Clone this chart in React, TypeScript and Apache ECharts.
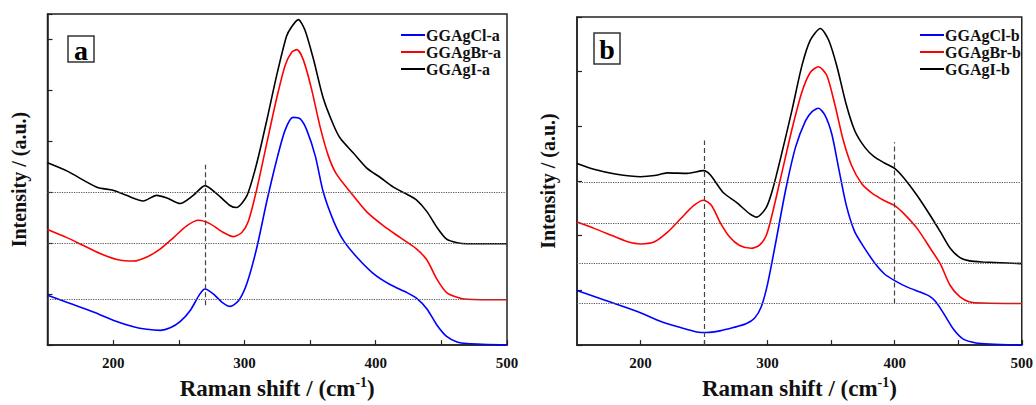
import React, { useEffect, useRef } from "react";
import * as echarts from "echarts";

const FONT = '"Liberation Serif", "Times New Roman", serif';

// Panel a
const namesA = ["GGAgCl-a", "GGAgBr-a", "GGAgI-a"];
const namesB = ["GGAgCl-b", "GGAgBr-b", "GGAgI-b"];
const colors = ["#0000ff", "#ff0000", "#000000"];

const aCl: [number, number][] = [
  [150, 0.98], [164.7, 0.84], [185, 0.65], [200, 0.49], [215.5, 0.36], [225.7, 0.31], [236, 0.29],
  [243.5, 0.34], [251, 0.46], [258.7, 0.68], [266, 1.0], [270, 1.1], [276.5, 1.0], [283, 0.84],
  [289, 0.76], [295.5, 0.87], [302, 1.22], [309.5, 1.92], [317, 2.82], [324.6, 3.64], [331, 4.22],
  [337, 4.47], [342.5, 4.44], [347.5, 4.22], [354, 3.71], [360, 3.01], [368, 2.43], [375.5, 2.05],
  [385.5, 1.73], [398, 1.41], [410.9, 1.19], [423.8, 1.03], [431, 0.92], [439, 0.71], [446.7, 0.39],
  [454, 0.17], [462, 0.06], [469.5, 0.03], [500, 0.0],
];
const aBr: [number, number][] = [
  [150, 2.27], [164.7, 2.11], [177, 1.96], [190, 1.8], [203, 1.68], [215.5, 1.65], [225.7, 1.73],
  [236, 1.89], [246, 2.11], [256, 2.34], [265, 2.45], [274, 2.38], [284, 2.21], [291.7, 2.13],
  [298, 2.21], [303, 2.43], [309.5, 3.07], [317, 3.96], [324.6, 4.85], [331, 5.49], [336, 5.75],
  [340, 5.8], [345, 5.59], [351, 5.04], [357.7, 4.28], [364, 3.71], [370, 3.36], [380.5, 3.01],
  [393, 2.62], [406, 2.34], [418.7, 2.11], [431, 1.89], [439, 1.67], [446.7, 1.29], [454, 1.03],
  [462, 0.94], [469.5, 0.9], [500, 0.89],
];
const aI: [number, number][] = [
  [150, 3.58], [164.7, 3.42], [187.6, 3.1], [200, 3.04], [210, 2.94], [223, 2.83], [233, 2.94],
  [241, 2.89], [251, 2.78], [261, 2.94], [270, 3.13], [279, 2.97], [289, 2.74], [294, 2.7],
  [302, 2.94], [309.5, 3.58], [317, 4.41], [324.6, 5.3], [332, 6.06], [336, 6.25], [341, 6.39],
  [346, 6.19], [352.5, 5.62], [360, 4.85], [368, 4.31], [373, 4.06], [383, 3.77], [393, 3.48],
  [403.5, 3.29], [413.5, 3.1], [423.8, 2.96], [431, 2.85], [439, 2.62], [446.7, 2.31], [454, 2.08],
  [462, 2.01], [469.5, 1.99], [500, 1.99],
];

// Panel b
const bCl: [number, number][] = [
  [150, 1.0], [172, 0.82], [198, 0.61], [216, 0.43], [231.5, 0.32], [244.4, 0.24], [252, 0.23],
  [262.5, 0.26], [273, 0.32], [283, 0.39], [289.7, 0.49], [295, 0.7], [300, 1.12], [306.5, 1.89],
  [314.3, 2.85], [322, 3.62], [329.8, 4.1], [335, 4.27], [340, 4.33], [345, 4.21], [350.5, 3.86],
  [355.7, 3.26], [362, 2.55], [368.6, 2.07], [376.4, 1.77], [384, 1.51], [392, 1.3], [400, 1.18],
  [410, 1.06], [420, 0.97], [427, 0.9], [432, 0.8], [438.5, 0.58], [446.3, 0.29], [454, 0.11], [464, 0.04],
  [474.7, 0.02], [500, 0.0],
];
const bBr: [number, number][] = [
  [150, 2.25], [164, 2.13], [180, 1.98], [190, 1.89], [200, 1.85], [211, 1.89], [221, 2.06],
  [231.5, 2.31], [241.7, 2.55], [249.6, 2.65], [256, 2.55], [262.5, 2.25], [270, 1.98], [278, 1.82],
  [287, 1.77], [293.6, 1.83], [299, 2.01], [304, 2.43], [311.7, 3.2], [319.5, 3.98], [327, 4.63],
  [333.7, 4.99], [340, 5.09], [346.6, 4.93], [353, 4.39], [359.6, 3.74], [366, 3.29], [373.8, 2.96],
  [381.6, 2.79], [392, 2.64], [400, 2.55], [407.4, 2.4], [417.8, 2.13], [428, 1.77], [436, 1.48],
  [443.7, 1.09], [451.4, 0.88], [459, 0.79], [469.5, 0.77], [500, 0.76],
];
const bI: [number, number][] = [
  [150, 3.32], [164, 3.21], [180, 3.13], [200, 3.08], [211, 3.1], [221, 3.15], [237, 3.14],
  [249.6, 3.19], [255, 3.11], [265, 2.79], [275.5, 2.61], [286, 2.4], [291.5, 2.34], [299, 2.52],
  [304, 2.85], [311.7, 3.56], [319.5, 4.33], [327, 5.11], [333.7, 5.58], [341.5, 5.79], [348, 5.58],
  [354.4, 5.11], [362, 4.39], [368.6, 3.92], [376.4, 3.62], [384, 3.44], [392, 3.33], [400, 3.23],
  [407.4, 3.05], [417.8, 2.73], [428, 2.37], [436, 2.07], [443.7, 1.77], [451.4, 1.6], [459, 1.54],
  [469.5, 1.52], [500, 1.49],
];

// Reference lines
const hLinesA = [3.0, 2.0, 0.9];
const vLinesA: [number, number, number][] = [[270, 0.78, 3.54]];
const hLinesB = [2.98, 2.22, 1.49, 0.76];
const vLinesB: [number, number, number][] = [[250, 0, 3.74], [400, 0.76, 3.71]];

const X_MIN = 150;
const X_MAX = 500;
const Y_MAX_A = 6.5;
const Y_MAX_B = 6;

export default function App() {
  const ref = useRef<HTMLDivElement>(null);
  useEffect(() => {
    if (!ref.current) return;
    const chart = echarts.init(ref.current, null, { renderer: "svg" });

    const xAxisBase = (gridIndex: number) => ({
      type: "value",
      gridIndex,
      min: X_MIN,
      max: X_MAX,
      interval: 50,
      name: "{a|Raman shift / (cm}{s|-1}{a|)}",
      nameLocation: "middle",
      nameGap: 29,
      nameTextStyle: {
        rich: {
          a: { fontFamily: FONT, fontWeight: "bold", fontSize: 23, color: "#111" },
          s: { fontFamily: FONT, fontWeight: "bold", fontSize: 14, color: "#111", verticalAlign: "top", padding: [0, 0, 13, 0] },
        },
      },
      axisLine: { show: true, lineStyle: { color: "#222", width: 1.5 } },
      axisTick: { show: true, inside: true, length: 5, lineStyle: { color: "#222", width: 1.2 } },
      axisLabel: {
        formatter: (v: number) => (v % 100 === 0 ? String(v) : ""),
        fontFamily: FONT,
        fontWeight: "bold",
        fontSize: 15,
        color: "#111",
        margin: 10,
        showMinLabel: false,
      },
      splitLine: { show: false },
    });

    const yAxisBase = (gridIndex: number, max: number) => ({
      type: "value",
      gridIndex,
      min: 0,
      max,
      interval: 1,
      name: "Intensity / (a.u.)",
      nameLocation: "middle",
      nameGap: 19,
      nameTextStyle: { fontFamily: FONT, fontWeight: "bold", fontSize: 20, color: "#111" },
      axisLine: { show: true, lineStyle: { color: "#222", width: 1.5 } },
      axisTick: { show: true, inside: true, length: 5, lineStyle: { color: "#222", width: 1.2 } },
      axisLabel: { show: false },
      splitLine: { show: false },
    });

    const markLineFor = (h: number[], v: [number, number, number][]) => ({
      silent: true,
      symbol: ["none", "none"],
      label: { show: false },
      data: [
        ...h.map((y) => [
          { coord: [X_MIN, y], lineStyle: { type: "dotted", color: "#555", width: 1.2 } },
          { coord: [X_MAX, y] },
        ]),
        ...v.map(([x, y0, y1]) => [
          { coord: [x, y0], lineStyle: { type: [5, 3], color: "#444", width: 1.2 } },
          { coord: [x, y1] },
        ]),
      ],
    });

    const mkSeries = (name: string, data: [number, number][], color: string, idx: number, ml?: any) => ({
      name,
      type: "line",
      xAxisIndex: idx,
      yAxisIndex: idx,
      data,
      symbol: "none",
      smooth: 0.25,
      lineStyle: { color, width: 1.6 },
      itemStyle: { color },
      ...(ml ? { markLine: ml } : {}),
    });

    const legendBase = (data: string[], left: number, top: number) => ({
      data,
      orient: "vertical",
      left,
      top,
      itemWidth: 24,
      itemHeight: 2,
      itemGap: 1,
      icon: "rect",
      textStyle: { fontFamily: FONT, fontWeight: "bold", fontSize: 16, color: "#111", padding: [0, 0, 0, -4] },
    });

    const panelLabel = (ch: string, x: number, y: number, w: number, h: number) => [
      {
        type: "rect",
        shape: { x, y, width: w, height: h },
        style: { fill: "#fff", stroke: "#333", lineWidth: 1.5 },
        z: 10,
      },
      {
        type: "text",
        x: x + w / 2,
        y: y + h / 2 + 1,
        style: {
          text: ch,
          font: `bold 28px ${FONT}`,
          fill: "#000",
          textAlign: "center",
          textVerticalAlign: "middle",
        },
        z: 11,
      },
    ];

    chart.setOption({
      animation: false,
      backgroundColor: "#fff",
      grid: [
        { left: 47.5, top: 14, width: 459.5, height: 340, show: true, borderColor: "#222", borderWidth: 1.5 },
        { left: 577, top: 17, width: 449, height: 336, show: true, borderColor: "#222", borderWidth: 1.5 },
      ],
      xAxis: [xAxisBase(0), xAxisBase(1)],
      yAxis: [yAxisBase(0, Y_MAX_A), yAxisBase(1, Y_MAX_B)],
      legend: [legendBase(namesA, 396, 22), legendBase(namesB, 915, 22)],
      series: [
        mkSeries(namesA[0], aCl, colors[0], 0, markLineFor(hLinesA, vLinesA)),
        mkSeries(namesA[1], aBr, colors[1], 0),
        mkSeries(namesA[2], aI, colors[2], 0),
        mkSeries(namesB[0], bCl, colors[0], 1, markLineFor(hLinesB, vLinesB)),
        mkSeries(namesB[1], bBr, colors[1], 1),
        mkSeries(namesB[2], bI, colors[2], 1),
      ],
      graphic: [...panelLabel("a", 68, 36, 26, 26), ...panelLabel("b", 594, 33, 26, 31)],
    });

    return () => chart.dispose();
  }, []);

  return (
    <div
      ref={ref}
      style={{ position: "fixed", left: 0, top: 0, width: 1036, height: 405, background: "#fff" }}
    />
  );
}
